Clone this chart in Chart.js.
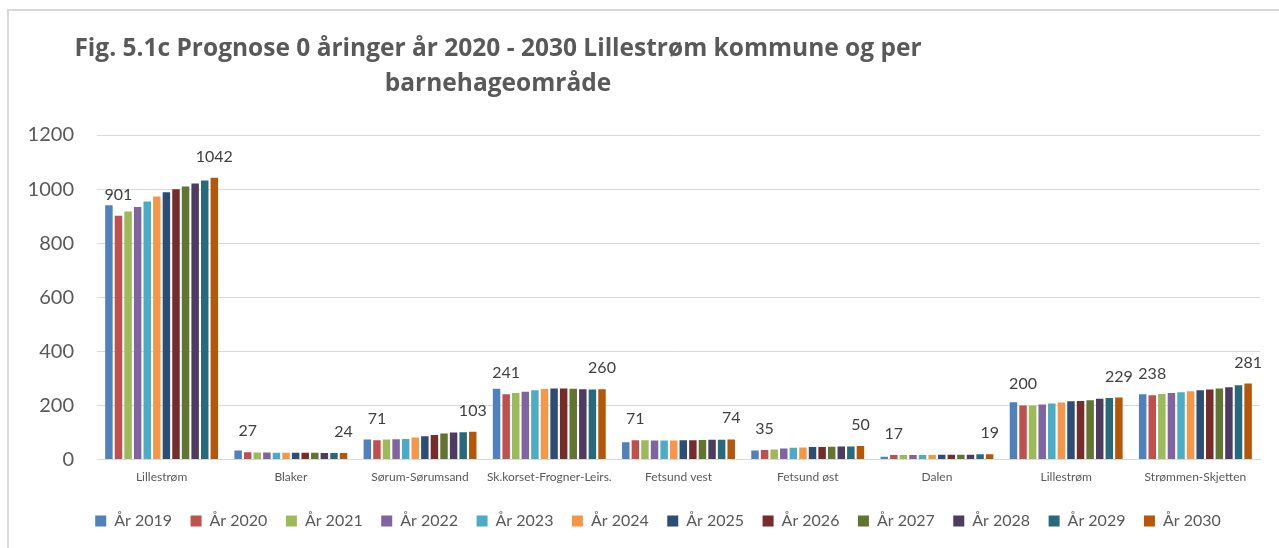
<!DOCTYPE html>
<html>
<head>
<meta charset="utf-8">
<script src="https://cdn.jsdelivr.net/npm/chart.js@4.4.1/dist/chart.umd.min.js"></script>
<style>
  html, body { margin: 0; padding: 0; background: #fff; }
  #wrap { position: relative; width: 1279px; height: 548px; overflow: hidden; }
  #frame { position: absolute; left: 7px; top: 9px; right: -10px; bottom: -10px; border-left: 2px solid #d9d9d9; border-top: 2px solid #d9d9d9; }
  #title { position: absolute; left: 0; top: 29px; width: 996px; text-align: center; font-family: "Open Sans", sans-serif; font-weight: bold; font-size: 24.5px; line-height: 35px; color: #595959; }
  canvas { position: absolute; left: 0; top: 0; }
</style>
</head>
<body>
<div id="wrap">
  <div id="frame"></div>
  <canvas id="c" width="1279" height="548"></canvas>
  <div id="title">Fig. 5.1c Prognose 0 åringer år 2020 - 2030 Lillestrøm kommune og per<br>barnehageområde</div>
</div>
<script>
const categories = ["Lillestrøm", "Blaker", "Sørum-Sørumsand", "Sk.korset-Frogner-Leirs.", "Fetsund vest", "Fetsund øst", "Dalen", "Lillestrøm", "Strømmen-Skjetten"];
const seriesNames = ["År 2019", "År 2020", "År 2021", "År 2022", "År 2023", "År 2024", "År 2025", "År 2026", "År 2027", "År 2028", "År 2029", "År 2030"];
const y2019 = [940, 33, 74, 262, 64, 33, 10, 212, 241];
const y2020 = [901, 27, 71, 241, 71, 35, 17, 200, 238];
const y2021 = [917, 26, 74, 246, 71, 37, 17, 200, 242];
const y2022 = [934, 26, 75, 251, 70, 41, 17, 203, 246];
const y2023 = [954, 25, 76, 256, 70, 43, 17, 207, 249];
const y2024 = [973, 25, 81, 261, 70, 44, 17, 211, 252];
const y2025 = [988, 25, 86, 263, 71, 46, 18, 215, 256];
const y2026 = [999, 25, 91, 263, 71, 46, 18, 216, 259];
const y2027 = [1010, 25, 96, 262, 72, 47, 18, 219, 263];
const y2028 = [1021, 24, 100, 260, 73, 48, 18, 225, 267];
const y2029 = [1032, 24, 101, 259, 73, 48, 19, 227, 275];
const y2030 = [1042, 24, 103, 260, 74, 50, 19, 229, 281];
const yTicks = [0, 200, 400, 600, 800, 1000, 1200];
const labelledSeries = ["År 2020", "År 2030"];

const seriesValues = [y2019, y2020, y2021, y2022, y2023, y2024, y2025, y2026, y2027, y2028, y2029, y2030];
const colors = ["#4F81BD", "#C0504D", "#9BBB59", "#8064A2", "#4BACC6", "#F79646", "#2C4D75", "#772C2A", "#5F7530", "#4D3B62", "#276A7C", "#B65708"];

const datasets = seriesNames.map((name, i) => ({
  label: name,
  data: seriesValues[i],
  backgroundColor: colors[i],
  borderWidth: 0,
  categoryPercentage: 0.89,
  barPercentage: 0.78
}));

const valueLabels = {
  id: 'valueLabels',
  afterDatasetsDraw(chart) {
    const ctx = chart.ctx;
    ctx.save();
    ctx.font = '16px Lato, sans-serif';
    ctx.fillStyle = '#404040';
    ctx.textAlign = 'center';
    ctx.textBaseline = 'alphabetic';
    chart.data.datasets.forEach((ds, di) => {
      if (!labelledSeries.includes(ds.label)) return;
      const meta = chart.getDatasetMeta(di);
      meta.data.forEach((bar, j) => {
        ctx.fillText(String(ds.data[j]), bar.x, bar.y - 16);
      });
    });
    ctx.restore();
  }
};

const legendShift = {
  id: 'legendShift',
  afterLayout(chart) {
    const l = chart.legend;
    if (l) { l.left += 28; l.right += 28; }
  }
};

new Chart(document.getElementById('c'), {
  type: 'bar',
  data: { labels: categories, datasets },
  plugins: [valueLabels, legendShift],
  options: {
    responsive: false,
    animation: false,
    devicePixelRatio: 1,
    layout: { padding: { left: 0, right: 19, top: 135, bottom: 9 } },
    plugins: {
      title: { display: false },
      tooltip: { enabled: false },
      legend: {
        position: 'bottom',
        labels: {
          boxWidth: 11,
          boxHeight: 11,
          padding: 18.5,
          color: '#595959',
          font: { family: 'Lato, sans-serif', size: 16 }
        }
      }
    },
    scales: {
      x: {
        grid: { display: false, drawTicks: false },
        border: { display: true, color: '#d9d9d9', width: 1 },
        ticks: { color: '#595959', font: { family: 'Lato, sans-serif', size: 12 }, padding: 10, maxRotation: 0, autoSkip: false },
        afterFit: (s) => { s.height = 35; }
      },
      y: {
        min: 0,
        max: 1200,
        afterBuildTicks: (s) => { s.ticks = yTicks.map(v => ({ value: v })); },
        grid: { color: '#d9d9d9', lineWidth: 1, drawTicks: false },
        border: { display: false },
        ticks: { color: '#595959', font: { family: 'Lato, sans-serif', size: 20 }, padding: 23, callback: (v) => String(v) },
        afterFit: (s) => { s.width = 97; }
      }
    }
  }
});
</script>
</body>
</html>
